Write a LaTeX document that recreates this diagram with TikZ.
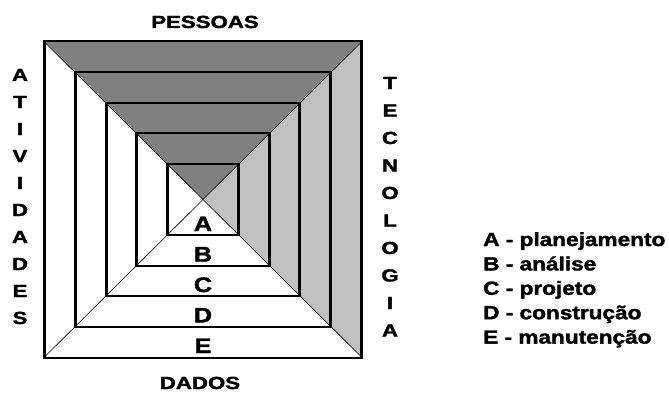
\documentclass[tikz,border=0pt]{standalone}
\usepackage{fontspec}
\usetikzlibrary{calc}
\setmainfont{Liberation Sans}
\newfontfamily\heavyfont{Liberation Sans Bold}[FakeBold=1.6]
\newcommand\widetxt[2][1.25]{\scalebox{#1}[1]{#2}}
\definecolor{topgray}{HTML}{808080}
\definecolor{sidegray}{HTML}{C0C0C0}
\begin{document}
\begin{tikzpicture}[x=1pt,y=-1pt,
  frame/.style={line width=2.6pt, line join=miter},
  diag/.style={line width=0.6pt},
  caption/.style={font=\fontsize{17.5}{17.5}\heavyfont, inner sep=0pt, anchor=base},
  band/.style={font=\fontsize{21}{21}\heavyfont, inner sep=0pt, anchor=base},
  legend/.style={font=\fontsize{19}{19}\heavyfont, inner sep=0pt, anchor=base west}]
\useasboundingbox (0,0) rectangle (669,396);

% centre of the nested frames
\coordinate (c) at (203,199.5);

% shaded faces: top (people) and right (technology)
\fill[topgray] (44,41.5) -- (362,41.5) -- (c) -- cycle;
\fill[sidegray] (362,41.5) -- (362,357.5) -- (c) -- cycle;

% diagonals from the outer corners to the centre
\coordinate (tl) at (44,41.5);
\coordinate (tr) at (362,41.5);
\coordinate (br) at (362,357.5);
\coordinate (bl) at (44,357.5);
\foreach \k in {tl,tr,br,bl} \draw[diag] (\k) -- (c);

% nested frames
\foreach \h/\n in {158.5/1,127.5/2,96.5/3,66.5/4,35.5/5}
  \draw[frame] ($(c)+(-\h,-\h)$) coordinate (sq\n-tl) rectangle ($(c)+(\h,\h)$) coordinate (sq\n-br);

% band letters
\foreach \l/\y [count=\i] in {A/231,B/261.5,C/292,D/322.5,E/353}
  \node[band, name=band\i] at (203,\y) {\widetxt[1.2]{\l}};

% side captions
\node[caption, name=pessoas] at (205,28) {\widetxt[1.27]{PESSOAS}};
\node[caption, name=dados] at (200,389) {\widetxt[1.27]{DADOS}};
\foreach \l [count=\i] in {A,T,I,V,I,D,A,D,E,S}
  \node[caption, name=ativ\i] at (20,{81+27*(\i-1)}) {\widetxt[1.27]{\l}};
\foreach \l [count=\i] in {T,E,C,N,O,L,O,G,I,A}
  \node[caption, name=tecn\i] at (390,{89+27.5*(\i-1)}) {\widetxt[1.27]{\l}};

% legend
\foreach \t [count=\i] in {A - planejamento,B - análise,C - projeto,D - construção,E - manutenção}
  \node[legend, name=leg\i] at (483,{246+24.4*(\i-1)}) {\widetxt[1.19]{\t}};
\end{tikzpicture}
\end{document}
